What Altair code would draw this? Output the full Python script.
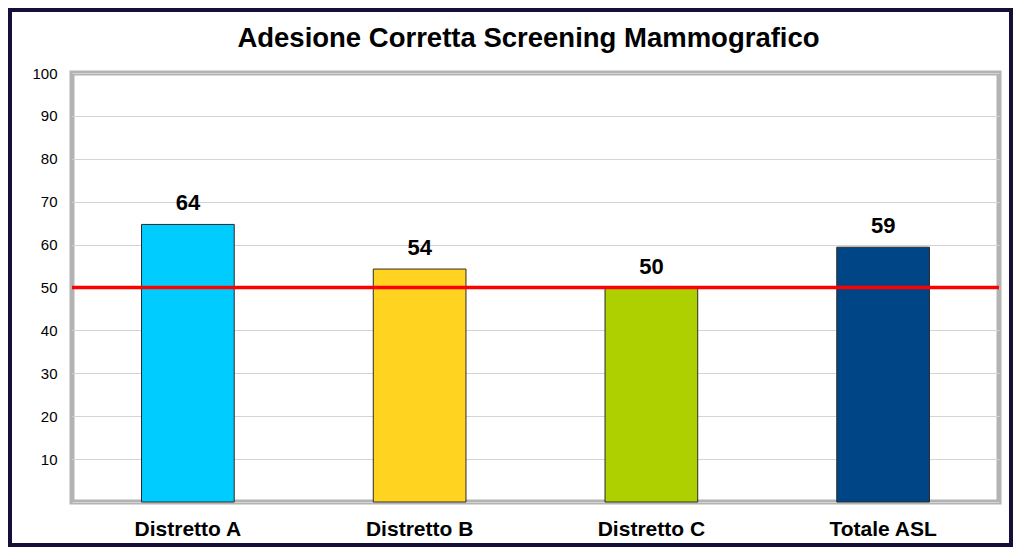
import altair as alt
import pandas as pd

categories = ["Distretto A", "Distretto B", "Distretto C", "Totale ASL"]
values = [64.7, 54.3, 49.9, 59.4]
labels = ["64", "54", "50", "59"]
colors = ["#00ccff", "#ffd320", "#aecf00", "#004586"]
threshold = [50]
title_text = "Adesione Corretta Screening Mammografico"

df = pd.DataFrame({"cat": categories, "val": values, "lab": labels})
df_thr = pd.DataFrame({"t": threshold})

W, H = 927, 429
PL, PT, PR, PB = 64, 65, 14, 45

x_enc = alt.X(
    "cat:N",
    sort=categories,
    scale=alt.Scale(paddingInner=0.6, paddingOuter=0.3),
    axis=alt.Axis(
        title=None, labelAngle=0, labelFont="Liberation Sans", labelFontSize=21,
        labelFontWeight="bold", labelColor="#000000", labelPadding=16,
        ticks=False, domain=False, grid=False,
    ),
)
y_scale = alt.Scale(domain=[0, 100], nice=False)

frame = alt.Chart(df_thr).mark_rect(filled=False, stroke="#14103a", strokeWidth=8).encode(
    x=alt.value(-PL), x2=alt.value(W + PR), y=alt.value(-PT), y2=alt.value(H + PB)
)

bars = alt.Chart(df).mark_bar(stroke="#2a2a2a", strokeWidth=1).encode(
    x=x_enc,
    y=alt.Y(
        "val:Q", scale=y_scale,
        axis=alt.Axis(
            title=None, values=list(range(0, 101, 10)),
            labelExpr="datum.value == 0 ? '' : datum.label",
            labelFont="Liberation Sans", labelFontSize=15, labelColor="#000000",
            labelPadding=15, ticks=False, domain=False,
            grid=True, gridColor="#d4d4d4", gridWidth=1,
        ),
    ),
    color=alt.Color("cat:N", scale=alt.Scale(domain=categories, range=colors), legend=None),
)

text = alt.Chart(df).mark_text(
    font="Liberation Sans", fontSize=22, fontWeight="bold", color="#000000",
    baseline="bottom", dy=-9,
).encode(
    x=alt.X("cat:N", sort=categories),
    y=alt.Y("val:Q", scale=y_scale),
    text="lab:N",
)

rule = alt.Chart(df_thr).mark_rule(color="#ff0000", strokeWidth=3.5).encode(
    y=alt.Y("t:Q", scale=y_scale)
)

chart = alt.layer(bars, rule, text, frame).properties(
    width=W, height=H,
    background="#ffffff",
    padding={"left": PL, "top": PT, "right": PR, "bottom": PB},
    autosize=alt.AutoSizeParams(type="none"),
    title=alt.TitleParams(
        title_text, font="Liberation Sans", fontSize=27.5, fontWeight="bold",
        color="#000000", anchor="middle", offset=20, dx=-7, dy=68,
    ),
).configure_view(
    stroke="#b3b3b3", strokeWidth=5
)

chart.save("out.html", embed_options={"renderer": "svg", "actions": False})
